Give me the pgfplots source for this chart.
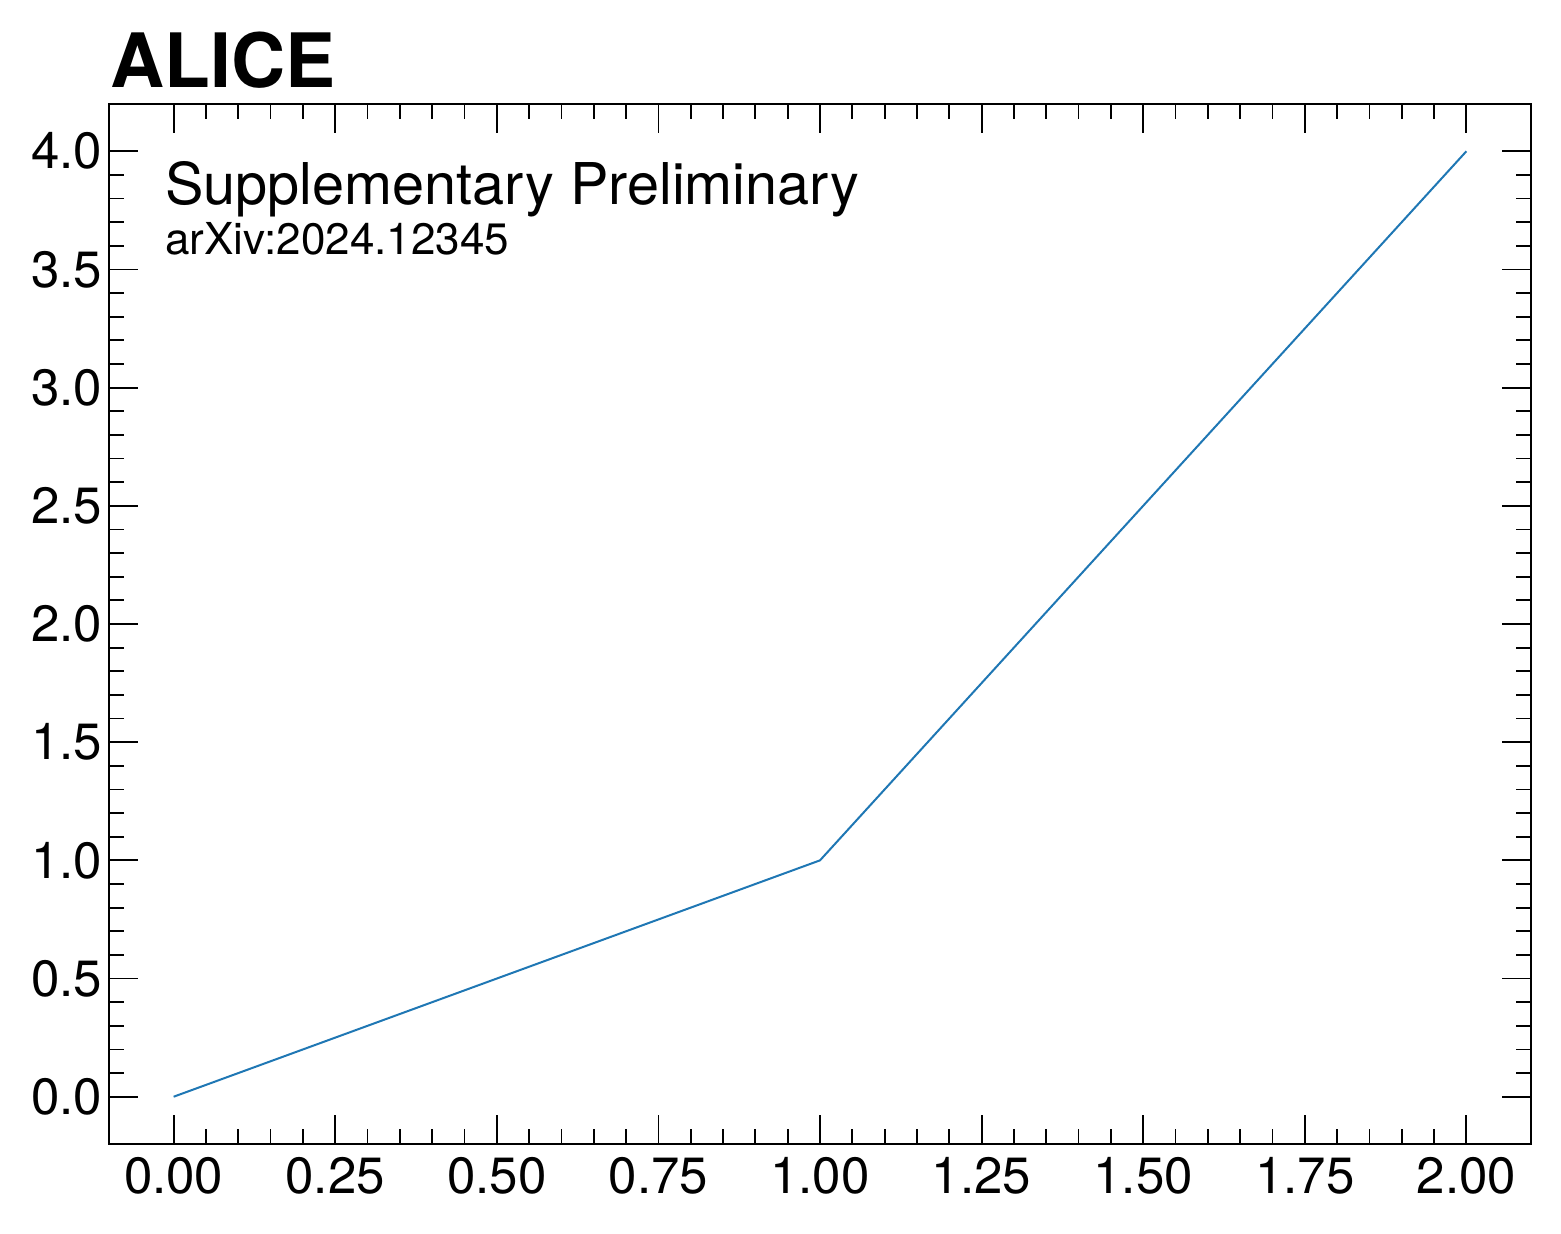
\documentclass[border=0pt]{standalone}
\usepackage{fontspec}
\setmainfont{TeX Gyre Heros}
\usepackage{pgfplots}
\pgfplotsset{compat=1.18}
\definecolor{mplblue}{HTML}{1F77B4}
\begin{document}
\begin{tikzpicture}
\begin{axis}[
  scale only axis,
  width=711pt, height=520pt,
  xmin=-0.1, xmax=2.1, ymin=-0.2, ymax=4.2,
  xtick={0,0.25,...,2.0},
  ytick={0,0.5,...,4.0},
  minor x tick num=4,
  minor y tick num=4,
  tick align=inside,
  xtick pos=both, ytick pos=both,
  major tick length=14.5pt,
  minor tick length=7.5pt,
  every tick/.style={black, line width=0.9pt},
  axis line style={line width=1pt, black},
  /pgf/number format/assume math mode=true,
  xticklabel style={/pgf/number format/.cd, fixed, fixed zerofill, precision=2},
  yticklabel style={/pgf/number format/.cd, fixed, fixed zerofill, precision=1},
  ticklabel style={font=\fontsize{25.5}{30}\selectfont},
  xticklabel shift=3pt,
  yticklabel shift=0pt,
  clip=false,
]
\addplot[mplblue, line width=1pt] coordinates {(0,0) (1,1) (2,4)};
\end{axis}
\node[anchor=base west, inner sep=0pt, font=\fontsize{37.5}{40}\selectfont\bfseries] at ([xshift=0.5pt, yshift=8pt]current axis.north west) {ALICE};
\node[anchor=base west, inner sep=0pt, font=\fontsize{28.8}{32}\selectfont] at ([xshift=28pt, yshift=-50.5pt]current axis.north west) {Supplementary Preliminary};
\node[anchor=base west, inner sep=0pt, font=\fontsize{22}{24}\selectfont] at ([xshift=28pt, yshift=-75.5pt]current axis.north west) {arXiv:2024.12345};
\pgfresetboundingbox
\path[use as bounding box] ([xshift=-54.5pt, yshift=-45pt]current axis.south west) rectangle ([xshift=15pt, yshift=52pt]current axis.north east);
\end{tikzpicture}
\end{document}
